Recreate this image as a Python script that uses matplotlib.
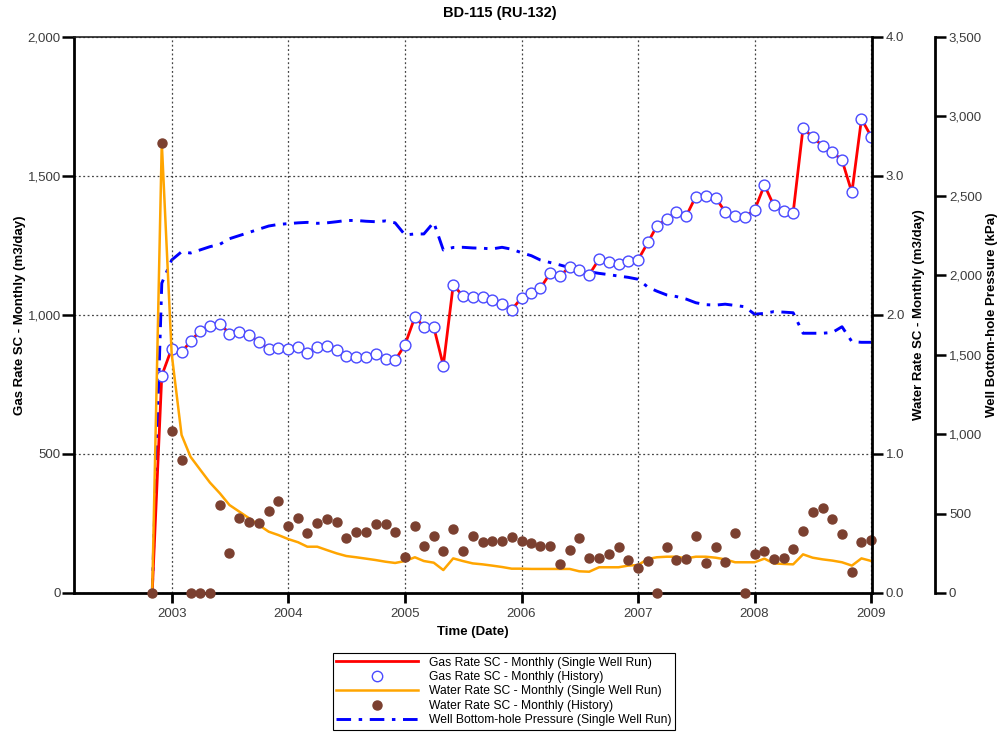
import numpy as np
import pandas as pd
import matplotlib
matplotlib.use("Agg")
import matplotlib.pyplot as plt
import matplotlib.dates as mdates
from matplotlib.lines import Line2D
from matplotlib.ticker import FuncFormatter, MultipleLocator
from datetime import datetime

plt.rcParams['font.family'] = ['Liberation Sans', 'DejaVu Sans']

# monthly dates, Nov 2002 .. Jan 2009
fechas = pd.date_range('2002-11-01', '2009-01-01', freq='MS')

# gas history (m3/day), Dec 2002 .. Jan 2009
gas_hist = [782,
            879, 866, 905, 944, 962, 969, 933, 939, 928, 903, 879, 880,
            878, 884, 863, 886, 889, 873, 851, 849, 850, 860, 843, 837,
            893, 993, 958, 957, 818, 1108, 1069, 1065, 1066, 1055, 1040, 1018,
            1062, 1079, 1096, 1151, 1140, 1173, 1162, 1145, 1201, 1192, 1185, 1193,
            1198, 1261, 1320, 1345, 1371, 1356, 1426, 1428, 1422, 1371, 1356, 1353,
            1377, 1467, 1395, 1373, 1368, 1673, 1639, 1609, 1586, 1557, 1441, 1705,
            1641]
# single well run, starts at zero in Nov 2002
gas_modelo = [0] + gas_hist

# water rate (m3/day), Nov 2002 .. Jan 2009
agua_modelo = [0, 3.24,
               1.72, 1.137, 0.98, 0.885, 0.794, 0.717, 0.633, 0.585, 0.537, 0.489, 0.441, 0.417,
               0.388, 0.365, 0.333, 0.333, 0.309, 0.285, 0.266, 0.257, 0.247, 0.237, 0.225, 0.216,
               0.230, 0.257, 0.230, 0.218, 0.165, 0.249, 0.230, 0.213, 0.206, 0.197, 0.187, 0.175,
               0.175, 0.173, 0.173, 0.173, 0.173, 0.173, 0.156, 0.153, 0.185, 0.185, 0.185, 0.197,
               0.201, 0.245, 0.257, 0.261, 0.261, 0.249, 0.261, 0.261, 0.254, 0.242, 0.221, 0.221,
               0.221, 0.247, 0.213, 0.209, 0.206, 0.278, 0.254, 0.242, 0.233, 0.221, 0.197, 0.249,
               0.230]
agua_hist = [0, 3.24,
             1.168, 0.959, 0, 0, 0, 0.633, 0.285, 0.540, 0.511, 0.501, 0.588, 0.662,
             0.480, 0.540, 0.432, 0.501, 0.530, 0.511, 0.396, 0.437, 0.437, 0.496, 0.496, 0.437,
             0.257, 0.484, 0.340, 0.412, 0.304, 0.460, 0.304, 0.408, 0.365, 0.376, 0.376, 0.405,
             0.376, 0.362, 0.338, 0.340, 0.206, 0.309, 0.396, 0.249, 0.252, 0.278, 0.329, 0.235,
             0.178, 0.230, 0, 0.329, 0.235, 0.245, 0.410, 0.218, 0.331, 0.221, 0.434, 0,
             0.281, 0.304, 0.245, 0.254, 0.317, 0.444, 0.580, 0.614, 0.532, 0.422, 0.153, 0.369,
             0.383]

# bottom-hole pressure (kPa), Nov 2002 .. Jan 2009
presion = [0, 1950,
           2096, 2148, 2140, 2160, 2180, 2195, 2230, 2250, 2270, 2290, 2310, 2320,
           2325, 2330, 2333, 2327, 2330, 2337, 2345, 2345, 2340, 2337, 2342, 2330,
           2254, 2260, 2260, 2333, 2159, 2175, 2176, 2172, 2170, 2166, 2176, 2164,
           2142, 2123, 2096, 2080, 2065, 2048, 2035, 2022, 2012, 2004, 1995, 1987,
           1975, 1925, 1900, 1876, 1866, 1850, 1827, 1815, 1812, 1818, 1810, 1802,
           1755, 1760, 1771, 1768, 1764, 1635, 1635, 1635, 1640, 1676, 1582, 1578,
           1578]

rojo = '#ff0000'
azul = '#0000ff'
naranja = '#ffa500'
marron = '#7b4030'
gris = '#3c3c3c'
guion = (5, 2.6, 1.2, 2.6)

fig = plt.figure(figsize=(10, 7.32), dpi=100)
ax = fig.add_axes([0.074, 0.1899, 0.798, 0.7596])
ax_w = ax.twinx()
ax_p = ax.twinx()

ax_p.set_zorder(1)
ax.set_zorder(2)
ax_w.set_zorder(3)
ax.patch.set_visible(False)
ax_w.patch.set_visible(False)

# pressure
ax_p.plot(fechas, presion, color=azul, lw=2.1, dashes=guion)
# gas
ax.plot(fechas, gas_modelo, color=rojo, lw=2)
ax.plot(fechas[1:], gas_hist, ls='none', marker='o', ms=7.8, mfc='white',
        mec='#4a4aff', mew=1)
# water
ax_w.plot(fechas, agua_modelo, color=naranja, lw=1.8)
ax_w.plot(fechas, agua_hist, ls='none', marker='o', ms=6.5, color=marron,
          clip_on=False)

ax.set_xlim(datetime(2002, 3, 1), datetime(2009, 1, 3))
ax.set_ylim(0, 2000)
ax_w.set_ylim(0, 4.0)
ax_p.set_ylim(0, 3500)

ax.xaxis.set_major_locator(mdates.YearLocator())
ax.xaxis.set_major_formatter(mdates.DateFormatter('%Y'))
ax.yaxis.set_major_locator(MultipleLocator(500))
ax_w.yaxis.set_major_locator(MultipleLocator(1.0))
ax_p.yaxis.set_major_locator(MultipleLocator(500))
ax.yaxis.set_major_formatter(FuncFormatter(lambda v, p: f'{v:,.0f}'))
ax_w.yaxis.set_major_formatter(FuncFormatter(lambda v, p: f'{v:.1f}'))
ax_p.yaxis.set_major_formatter(FuncFormatter(lambda v, p: f'{v:,.0f}'))

ax.grid(True, ls=(0, (1.5, 2)), color='#444444', lw=0.9)

for a in (ax, ax_w, ax_p):
    for s in a.spines.values():
        s.set_visible(False)
ax.spines['left'].set_visible(True)
ax.spines['bottom'].set_visible(True)
ax.spines['top'].set_visible(True)
ax.spines['left'].set_linewidth(2)
ax.spines['bottom'].set_linewidth(2)
ax.spines['top'].set_linewidth(1.2)
ax.spines['top'].set_color('#222222')
ax_w.spines['right'].set_visible(True)
ax_w.spines['right'].set_linewidth(2)
ax_p.spines['right'].set_visible(True)
ax_p.spines['right'].set_linewidth(2)
ax_p.spines['right'].set_position(('outward', 45.4))

ax.tick_params(axis='y', direction='out', length=8.5, width=1.8, labelsize=9.5,
               labelcolor=gris, pad=1)
ax.tick_params(axis='x', direction='out', length=7, width=2, labelsize=9.5,
               labelcolor=gris, pad=4)
ax_w.tick_params(axis='y', direction='out', length=8, width=1.8, labelsize=9.5,
                 labelcolor=gris, pad=2)
ax_p.tick_params(axis='y', direction='out', length=8, width=1.8, labelsize=9.5,
                 labelcolor=gris, pad=2)

ax.set_ylabel('Gas Rate SC - Monthly (m3/day)', fontsize=9.5, fontweight='bold', labelpad=1)
ax_w.set_ylabel('Water Rate SC - Monthly (m3/day)', fontsize=9.5, fontweight='bold', labelpad=6)
ax_p.set_ylabel('Well Bottom-hole Pressure (kPa)', fontsize=9.5, fontweight='bold', labelpad=3)
ax.set_xlabel('Time (Date)', fontsize=9.5, fontweight='bold', labelpad=4)

fig.text(0.5, 0.982, 'BD-115 (RU-132)', ha='center', va='center',
         fontsize=10.5, fontweight='bold')

handles = [Line2D([], [], color=rojo, lw=2),
           Line2D([], [], ls='none', marker='o', ms=7.5, mfc='white', mec='#4a4aff'),
           Line2D([], [], color=naranja, lw=1.8),
           Line2D([], [], ls='none', marker='o', ms=6.5, color=marron),
           Line2D([], [], color=azul, lw=2.1, dashes=guion)]
labels = ['Gas Rate SC - Monthly (Single Well Run)',
          'Gas Rate SC - Monthly (History)',
          'Water Rate SC - Monthly (Single Well Run)',
          'Water Rate SC - Monthly (History)',
          'Well Bottom-hole Pressure (Single Well Run)']
leg = fig.legend(handles, labels, loc='center', bbox_to_anchor=(0.504, 0.0555),
                 fontsize=8.7, frameon=True, fancybox=False, framealpha=1,
                 edgecolor='black', handlelength=6.8, labelspacing=0.2,
                 borderpad=0.3, handletextpad=0.9, borderaxespad=0)
leg.get_frame().set_linewidth(0.8)

fig.savefig('out.png', dpi=100)
